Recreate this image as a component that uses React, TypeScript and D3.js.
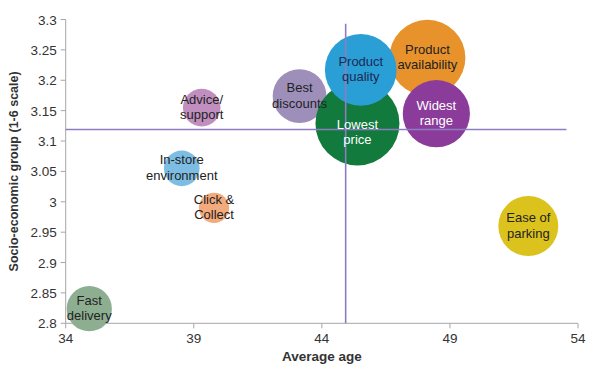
import React from "react";
import * as d3 from "d3";

const labels = [
  ["Fast", "delivery"],
  ["Click &", "Collect"],
  ["In-store", "environment"],
  ["Advice/", "support"],
  ["Best", "discounts"],
  ["Lowest", "price"],
  ["Product", "availability"],
  ["Product", "quality"],
  ["Widest", "range"],
  ["Ease of", "parking"],
];
const ages = [34.92, 39.79, 38.53, 39.31, 43.13, 45.39, 48.12, 45.52, 48.47, 52.06];
const groups = [2.824, 2.99, 3.055, 3.155, 3.174, 3.129, 3.237, 3.217, 3.145, 2.96];
const sizes = [29, 13, 18, 20, 41, 100, 82, 73, 64, 51];
const colors = ["#8dae91", "#f3aa7c", "#7dbde3", "#c08fbf", "#9e8fba", "#127a3c", "#e8922c", "#2a9fd6", "#8b3c9a", "#dcc21c"];
const textColors = ["#222", "#222", "#222", "#222", "#222", "#fff", "#222", "#1c2a55", "#fff", "#222"];
const labelGroupShift = [0, 0, 0, 0, 0, -0.015, 0, 0, 0, 0];
const xTicks = [34, 39, 44, 49, 54];
const yTicks = [2.8, 2.85, 2.9, 2.95, 3, 3.05, 3.1, 3.15, 3.2, 3.25, 3.3];
const avgAge = 44.93;
const avgGroup = 3.119;
const refX = [34, 53.55];
const refY = [2.8, 3.293];

export default function App() {
  const W = 600, H = 378;
  const x = d3.scaleLinear().domain([34, 54]).range([65.7, 578]);
  const y = d3.scaleLinear().domain([2.8, 3.3]).range([323.3, 19.5]);
  const r = d3.scaleSqrt().domain([0, 100]).range([0, 42]);
  const font = "'Liberation Sans', Arial, sans-serif";
  return (
    <svg width={W} height={H} style={{ position: "absolute", left: 0, top: 0, background: "#fff" }} fontFamily={font}>
      <rect width={W} height={H} fill="#fff" />
      <line x1={x(34)} x2={x(54)} y1={y(2.8)} y2={y(2.8)} stroke="#a6a6a6" />
      <line x1={x(34)} x2={x(34)} y1={y(2.8)} y2={y(3.3)} stroke="#a6a6a6" />
      {xTicks.map((t) => (
        <g key={"x" + t}>
          <line x1={x(t)} x2={x(t)} y1={y(2.8)} y2={y(2.8) + 5} stroke="#a6a6a6" />
          <text x={x(t)} y={y(2.8) + 20} textAnchor="middle" fontSize={13.5} fill="#333">{t}</text>
        </g>
      ))}
      {yTicks.map((t) => (
        <g key={"y" + t}>
          <line x1={x(34) - 5} x2={x(34)} y1={y(t)} y2={y(t)} stroke="#a6a6a6" />
          <text x={x(34) - 9} y={y(t) + 5} textAnchor="end" fontSize={13.5} fill="#333">{String(+t.toFixed(2))}</text>
        </g>
      ))}
      {ages.map((a, i) => (
        <circle key={"c" + i} cx={x(a)} cy={y(groups[i])} r={r(sizes[i])} fill={colors[i]} />
      ))}
      <line x1={x(refX[0])} x2={x(refX[1])} y1={y(avgGroup)} y2={y(avgGroup)} stroke="#8e7cc3" strokeWidth={1.6} />
      <line x1={x(avgAge)} x2={x(avgAge)} y1={y(refY[0])} y2={y(refY[1])} stroke="#8e7cc3" strokeWidth={1.6} />
      {ages.map((a, i) => {
        const cy = y(groups[i] + labelGroupShift[i]);
        return (
          <text key={"t" + i} x={x(a)} y={cy} textAnchor="middle" fontSize={13} fill={textColors[i]}>
            <tspan x={x(a)} dy={-4}>{labels[i][0]}</tspan>
            <tspan x={x(a)} dy={15.5}>{labels[i][1]}</tspan>
          </text>
        );
      })}
      <text x={x(44)} y={361} textAnchor="middle" fontSize={13.5} fontWeight="bold" fill="#333">Average age</text>
      <text transform={`translate(18, ${(y(2.8) + y(3.3)) / 2}) rotate(-90)`} textAnchor="middle" fontSize={12.5} fontWeight="bold" fill="#333">Socio-economic group (1-6 scale)</text>
    </svg>
  );
}
